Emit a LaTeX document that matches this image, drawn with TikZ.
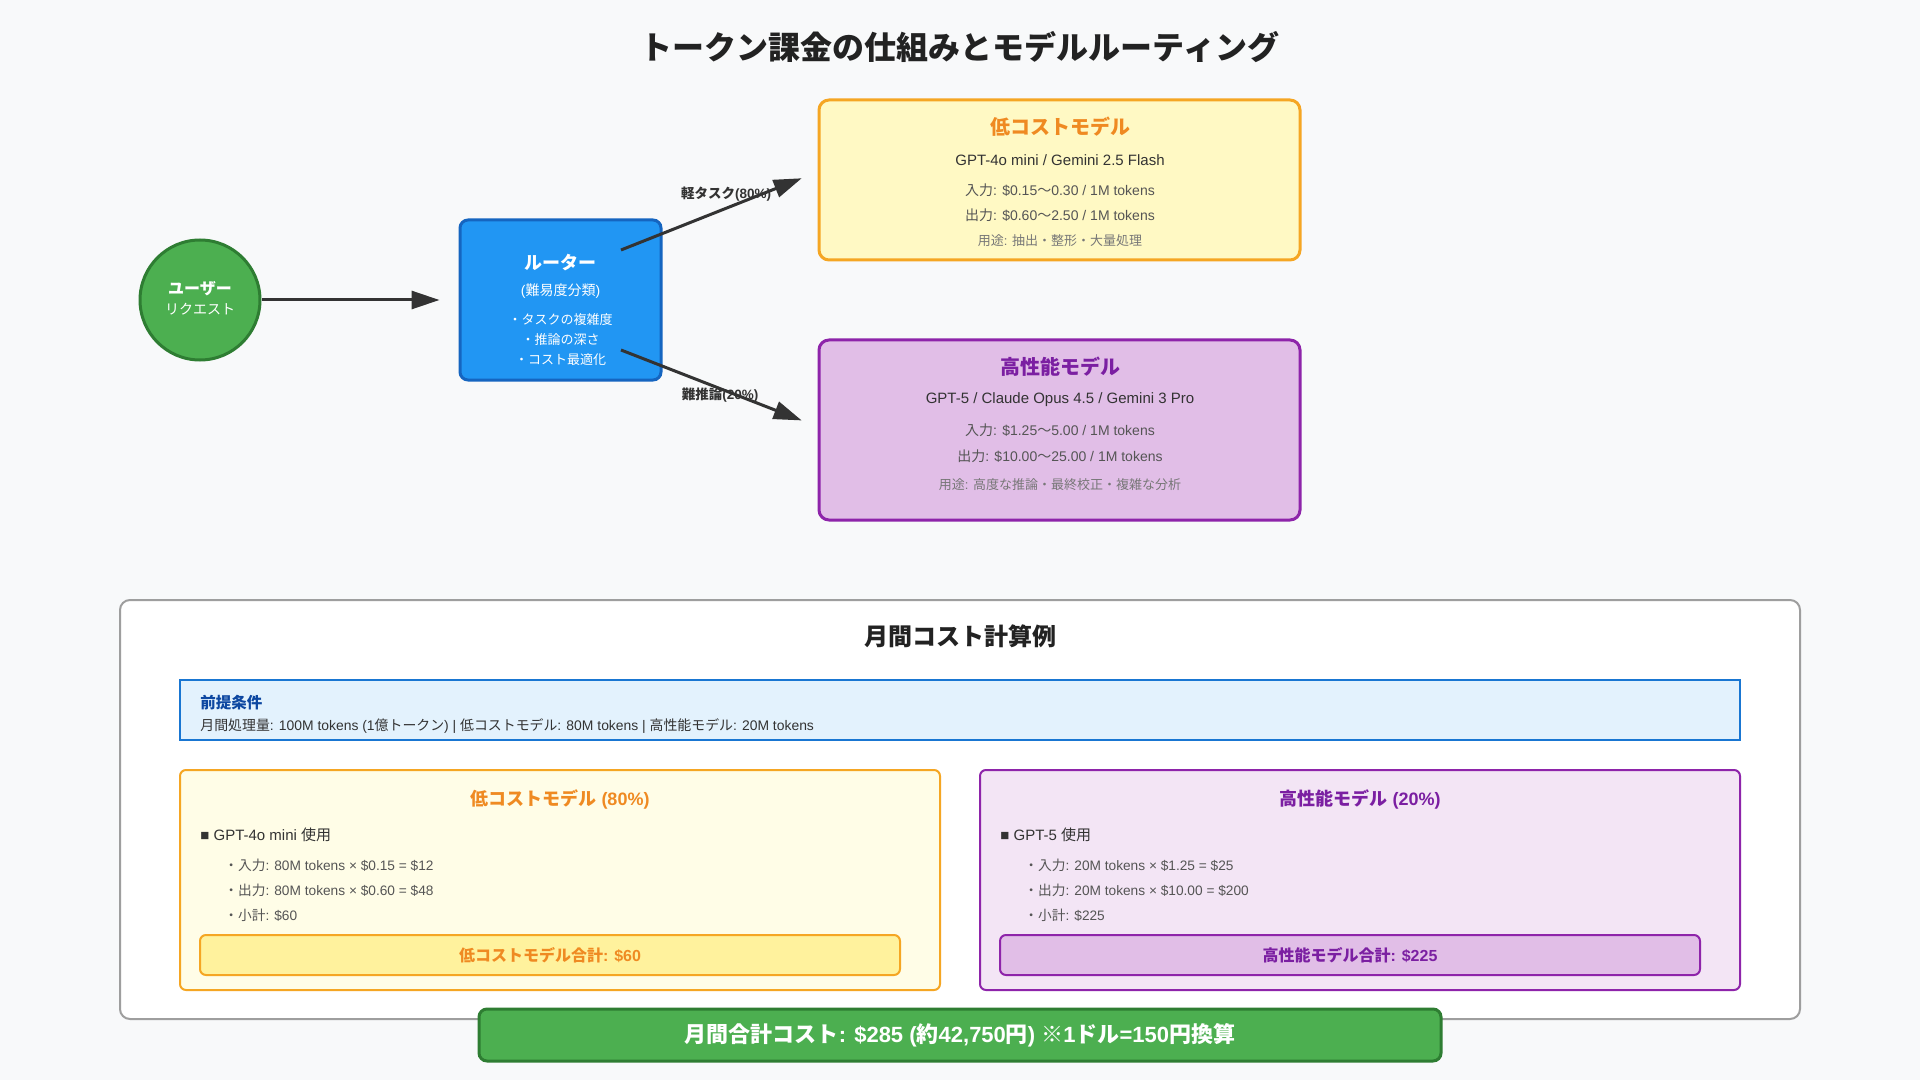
\documentclass[tikz,border=0pt]{standalone}
\usepackage{fontspec}
\setmainfont{Liberation Sans}
\newfontfamily\cjkfont{Noto Sans CJK JP}
\usetikzlibrary{arrows.meta}
% kana and kanji go to the CJK face, the rest stays in Liberation Sans
\newXeTeXintercharclass\cjkclass
\newcount\cjkcount
\newcommand\cjkrange[2]{%
  \cjkcount=#1\relax
  \loop
    \XeTeXcharclass\cjkcount=\cjkclass
  \ifnum\cjkcount<#2\relax
    \advance\cjkcount by 1
  \repeat}
\cjkrange{"3000}{"30FF}
\cjkrange{"4E00}{"9FFF}
\cjkrange{"FF00}{"FFEF}
\XeTeXcharclass"203B=\cjkclass
\XeTeXinterchartoks 0 \cjkclass={\cjkfont}
\XeTeXinterchartoks 4095 \cjkclass={\cjkfont}
\XeTeXinterchartoks \cjkclass 0={\rmfamily}
\XeTeXinterchartoks \cjkclass 4095={\rmfamily}
\XeTeXinterchartokenstate=1
\definecolor{pagebg}{HTML}{F8F9FA}
\definecolor{ink}{HTML}{333333}
\definecolor{inkdark}{HTML}{222222}
\definecolor{inkmid}{HTML}{555555}
\definecolor{inklight}{HTML}{777777}
\definecolor{usrfill}{HTML}{4CAF50}
\definecolor{usrline}{HTML}{2E7D32}
\definecolor{rtfill}{HTML}{2196F3}
\definecolor{rtline}{HTML}{1565C0}
\definecolor{lowfill}{HTML}{FFF9C4}
\definecolor{lowline}{HTML}{F5A623}
\definecolor{lowhead}{HTML}{EF8A22}
\definecolor{lowpale}{HTML}{FFFDE7}
\definecolor{lowsub}{HTML}{FFF29D}
\definecolor{highfill}{HTML}{E1BEE7}
\definecolor{highline}{HTML}{8E24AA}
\definecolor{highhead}{HTML}{7B1FA2}
\definecolor{highpale}{HTML}{F3E5F5}
\definecolor{panelline}{HTML}{9E9E9E}
\definecolor{premfill}{HTML}{E3F2FD}
\definecolor{premline}{HTML}{1976D2}
\definecolor{premhead}{HTML}{0D47A1}
\begin{document}
\begin{tikzpicture}[x=0.5pt,y=-0.5pt,
  txt/.style={inner sep=0pt,text=#1},
  card/.style 2 args={draw=#1,fill=#2,line width=1.5pt,rounded corners=5pt,inner sep=0pt},
  tile/.style 2 args={draw=#1,fill=#2,line width=1pt,rounded corners=3pt,inner sep=0pt},
  flow/.style={draw=ink,line width=1.5pt,-{Triangle[length=14pt,width=9pt]}},
  fs/.style={font=\fontsize{#1}{#1}\selectfont},
  fsb/.style={font=\bfseries\fontsize{#1}{#1}\selectfont}]
  \fill[pagebg] (0,0) rectangle (1920,1080);
  \useasboundingbox (0,0) rectangle (1920,1080);
  \node[txt=inkdark,fsb=16] (title) at (960,47) {トークン課金の仕組みとモデルルーティング};

  % user and router
  \node[circle,draw=usrline,fill=usrfill,line width=1.5pt,minimum size=60pt] (user) at (200,300) {};
  \node[txt=white,fsb=8] (userA) at (200,289) {ユーザー};
  \node[txt=white,fs=7] (userB) at (200,309) {リクエスト};
  \node[card={rtline}{rtfill},rounded corners=4pt,minimum width=100.5pt,minimum height=80pt] (router) at (560.5,300) {};
  \node[txt=white,fsb=9] (routerA) at (560.5,263) {ルーター};
  \node[txt=white,fs=7] (routerB) at (560.5,291) {(難易度分類)};
  \node[txt=white,fs=6.5] (routerC) at (560.5,320) {・タスクの複雑度};
  \node[txt=white,fs=6.5] (routerD) at (560.5,340) {・推論の深さ};
  \node[txt=white,fs=6.5] (routerE) at (560.5,360) {・コスト最適化};

  % model cards
  \node[card={lowline}{lowfill},minimum width=240.5pt,minimum height=80pt] (low) at (1059.5,180) {};
  \node[txt=lowhead,fsb=10] (lowA) at (1060,127) {低コストモデル};
  \node[txt=ink,fs=7.5] (lowB) at (1060,160) {GPT-4o mini / Gemini 2.5 Flash};
  \node[txt=inkmid,fs=7] (lowC) at (1060,190) {入力: \$0.15〜0.30 / 1M tokens};
  \node[txt=inkmid,fs=7] (lowD) at (1060,215) {出力: \$0.60〜2.50 / 1M tokens};
  \node[txt=inklight,fs=6.5] (lowE) at (1060,241) {用途: 抽出・整形・大量処理};
  \node[card={highline}{highfill},minimum width=240.5pt,minimum height=90pt] (high) at (1059.5,430) {};
  \node[txt=highhead,fsb=10] (highA) at (1060,367) {高性能モデル};
  \node[txt=ink,fs=7.5] (highB) at (1060,400) {GPT-5 / Claude Opus 4.5 / Gemini 3 Pro};
  \node[txt=inkmid,fs=7] (highC) at (1060,430) {入力: \$1.25〜5.00 / 1M tokens};
  \node[txt=inkmid,fs=7] (highD) at (1060,456) {出力: \$10.00〜25.00 / 1M tokens};
  \node[txt=inklight,fs=6.5] (highE) at (1060,485) {用途: 高度な推論・最終校正・複雑な分析};

  % routing arrows
  \node[txt=ink,fsb=6.75] (lightL) at (726,194) {軽タスク(80\%)};
  \node[txt=ink,fsb=6.75] (heavyL) at (720,395) {難推論(20\%)};
  \coordinate (lightA) at (621,250);
  \coordinate (heavyA) at (621,350);
  \draw[flow,shorten >=9.5pt] (user) -- (router);
  \draw[flow,shorten >=8.5pt] (lightA) -- ([yshift=4pt]low.west);
  \draw[flow,shorten >=8.5pt] (heavyA) -- ([yshift=1.7pt]high.west);

  % monthly cost example
  \node[draw=panelline,fill=white,line width=1pt,rounded corners=5pt,minimum width=840pt,minimum height=209.5pt] (panel) at (960,809.5) {};
  \node[txt=inkdark,fsb=12] (panelA) at (960,636) {月間コスト計算例};
  \node[draw=premline,fill=premfill,line width=1pt,minimum width=780pt,minimum height=30pt] (prem) at (960,710) {};
  \node[txt=premhead,fsb=7.75,anchor=west] (premA) at (200,703) {前提条件};
  \node[txt=ink,fs=6.95,anchor=west] (premB) at (200,726) {月間処理量: 100M tokens (1億トークン) | 低コストモデル: 80M tokens | 高性能モデル: 20M tokens};

  \node[tile={lowline}{lowpale},minimum width=380pt,minimum height=110pt] (lowcost) at (560,880) {};
  \node[txt=lowhead,fsb=9] (lowcostA) at (560,799) {低コストモデル (80\%)};
  \node[txt=ink,fs=7.5,anchor=west] (lowcostB) at (200,835) {■ GPT-4o mini 使用};
  \node[txt=inkmid,fs=6.85,anchor=west] (lowcostC) at (224,865) {・入力: 80M tokens × \$0.15 = \$12};
  \node[txt=inkmid,fs=6.85,anchor=west] (lowcostD) at (224,890) {・出力: 80M tokens × \$0.60 = \$48};
  \node[txt=inkmid,fs=6.85,anchor=west] (lowcostE) at (224,915) {・小計: \$60};
  \node[tile={lowline}{lowsub},minimum width=350pt,minimum height=20pt] (lowsum) at (550,955) {};
  \node[txt=lowhead,fsb=8] (lowsumA) at (550,955) {低コストモデル合計: \$60};

  \node[tile={highline}{highpale},minimum width=380pt,minimum height=110pt] (highcost) at (1360,880) {};
  \node[txt=highhead,fsb=9] (highcostA) at (1360,799) {高性能モデル (20\%)};
  \node[txt=ink,fs=7.5,anchor=west] (highcostB) at (1000,835) {■ GPT-5 使用};
  \node[txt=inkmid,fs=6.85,anchor=west] (highcostC) at (1024,865) {・入力: 20M tokens × \$1.25 = \$25};
  \node[txt=inkmid,fs=6.85,anchor=west] (highcostD) at (1024,890) {・出力: 20M tokens × \$10.00 = \$200};
  \node[txt=inkmid,fs=6.85,anchor=west] (highcostE) at (1024,915) {・小計: \$225};
  \node[tile={highline}{highfill},minimum width=350pt,minimum height=20pt] (highsum) at (1350,955) {};
  \node[txt=highhead,fsb=8] (highsumA) at (1350,955) {高性能モデル合計: \$225};

  \node[card={usrline}{usrfill},rounded corners=4pt,minimum width=481pt,minimum height=26pt] (total) at (960,1035) {};
  \node[txt=white,fsb=11] (totalA) at (960,1035) {月間合計コスト: \$285 (約42,750円) ※1ドル=150円換算};
\end{tikzpicture}
\end{document}
